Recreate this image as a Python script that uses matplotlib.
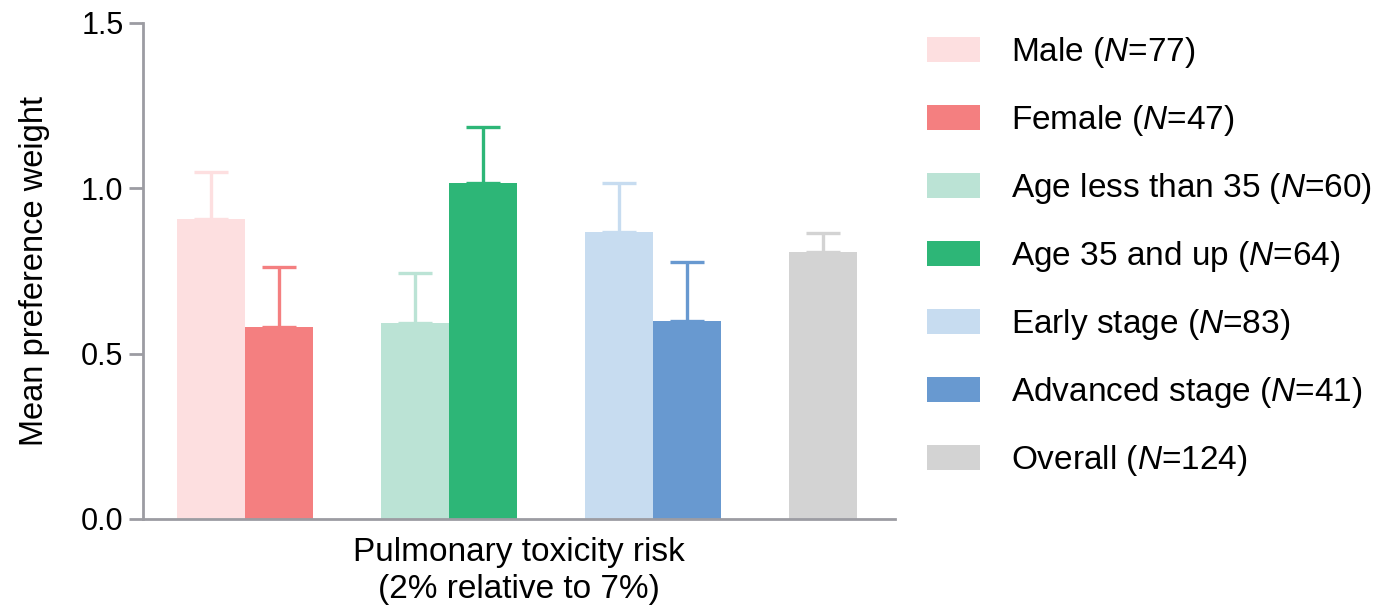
import matplotlib
matplotlib.use("Agg")
import matplotlib.pyplot as plt

plt.rcParams['font.family'] = ['Liberation Sans', 'DejaVu Sans']
plt.rcParams['mathtext.fontset'] = 'custom'
plt.rcParams['mathtext.rm'] = 'Liberation Sans'
plt.rcParams['mathtext.it'] = 'Liberation Sans:italic'

groups = ["Male", "Female", "Age less than 35", "Age 35 and up",
          "Early stage", "Advanced stage", "Overall"]
sizes = [77, 47, 60, 64, 83, 41, 124]
means = [0.906, 0.580, 0.592, 1.015, 0.867, 0.598, 0.807]
upper = [1.048, 0.761, 0.743, 1.184, 1.015, 0.776, 0.864]
slots = [0, 1, 3, 4, 6, 7, 9]
colors = ["#fddfe0", "#f47f80", "#bbe3d5", "#2db677",
          "#c7dcf0", "#6899d0", "#d3d3d3"]

fig = plt.figure(figsize=(13.78, 6.10), dpi=100)
ax = fig.add_axes([143/1378, 91/610, 752/1378, 496/610])

handles = []
for x, m, u, c, g, n in zip(slots, means, upper, colors, groups, sizes):
    b = ax.bar(x, m, width=1.0, color=c, edgecolor='none', zorder=2,
               label=g + " ($\\mathit{N}$=" + str(n) + ")")
    ax.errorbar(x, m, yerr=[[0], [u - m]], fmt='none', ecolor=c,
                elinewidth=2.4, capsize=12, capthick=2.4, zorder=1)
    handles.append(b)

ax.set_xlim(-1.0, 10.06)
ax.set_ylim(0, 1.5)
ax.set_yticks([0.0, 0.5, 1.0, 1.5])
ax.set_yticklabels(["0.0", "0.5", "1.0", "1.5"])
ax.set_xticks([])

for s in ['top', 'right']:
    ax.spines[s].set_visible(False)
for s in ['left', 'bottom']:
    ax.spines[s].set_color('#9c9ca2')
    ax.spines[s].set_linewidth(2)
ax.tick_params(axis='y', direction='out', length=10, width=2,
               color='#9c9ca2', labelsize=22, pad=4)

ax.set_ylabel("Mean preference weight", fontsize=23.5, labelpad=22)
ax.set_xlabel("Pulmonary toxicity risk\n(2% relative to 7%)", fontsize=24,
              labelpad=13, linespacing=1.25)

fig.legend(handles=handles, loc='upper left', bbox_to_anchor=(927/1378, 1 - 35/610),
           frameon=False, fontsize=24, handlelength=1.6, handleheight=0.78,
           handletextpad=0.93, labelspacing=0.99, borderaxespad=0, borderpad=0)

fig.savefig("out.png", dpi=100)
